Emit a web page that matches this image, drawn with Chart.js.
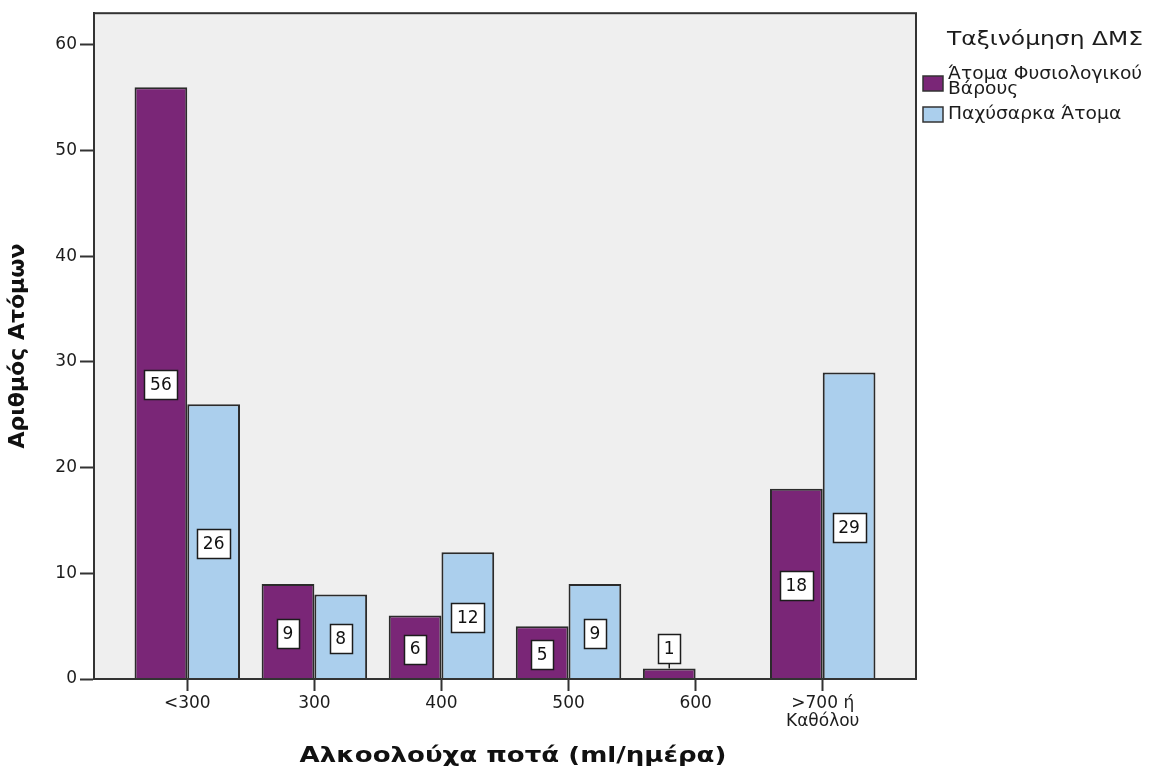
<!DOCTYPE html>
<html>
<head>
<meta charset="utf-8">
<script src="https://cdn.jsdelivr.net/npm/chart.js@4.4.1/dist/chart.umd.min.js"></script>
<style>
  html, body { margin: 0; padding: 0; background: #ffffff; }
  #wrap { width: 1154px; height: 774px; }
</style>
</head>
<body>
<div id="wrap"><canvas id="chart" width="1154" height="774"></canvas></div>
<script>
// Alcohol intake categories (ml/day) and head counts per BMI class
const categories = ['<300', '300', '400', '500', '600', ['>700 ή', 'Καθόλου']];
const normalWeight = [56, 9, 6, 5, 1, 18];
const obese = [26, 8, 12, 9, null, 29];
const seriesNames = [['Άτομα Φυσιολογικού', 'Βάρους'], ['Παχύσαρκα Άτομα']];
const yTicks = [0, 10, 20, 30, 40, 50, 60];
const legendTitle = 'Ταξινόμηση ΔΜΣ';
const xTitle = 'Αλκοολούχα ποτά (ml/ημέρα)';
const yTitle = 'Αριθμός Ατόμων';

const FONT = '"DejaVu Sans", "Liberation Sans", sans-serif';
const COLORS = ['#7a2677', '#abcfed'];
const INK = '#1c1c1c';
const FRAME = '#333333';

const toPoints = arr => arr.map((v, i) => ({ x: i, y: v }));

// Text drawn with a horizontal stretch (wide SPSS-style lettering)
function fillStretched(ctx, text, x, y, sx, align) {
  ctx.save();
  ctx.translate(x, y);
  ctx.scale(sx, 1);
  ctx.textAlign = align;
  ctx.fillText(text, 0, 0);
  ctx.restore();
}

// Grey plot background
const plotBackground = {
  id: 'plotBackground',
  beforeDraw(chart) {
    const { ctx, chartArea: a } = chart;
    ctx.save();
    ctx.fillStyle = '#efefef';
    ctx.fillRect(a.left, a.top, a.right - a.left, a.bottom - a.top);
    ctx.restore();
  }
};

// Boxed value labels on each bar, plus the frame around the plot
const valueBoxes = {
  id: 'valueBoxes',
  afterDatasetsDraw(chart) {
    const { ctx, chartArea: a } = chart;
    ctx.save();
    ctx.font = '17px ' + FONT;
    ctx.textAlign = 'center';
    ctx.textBaseline = 'middle';
    chart.data.datasets.forEach((ds, di) => {
      const meta = chart.getDatasetMeta(di);
      meta.data.forEach((bar, i) => {
        const v = ds.data[i].y;
        if (v === null || v === undefined) return;
        const txt = String(v);
        const w = Math.round(ctx.measureText(txt).width) + 11;
        const h = 29;
        const top = Math.min(bar.y, bar.base);
        const base = Math.max(bar.y, bar.base);
        const fits = (base - top) >= h + 8;
        const cy = fits ? (top + base) / 2 + 2 : top - 5 - h / 2;
        if (!fits) {
          ctx.strokeStyle = INK;
          ctx.lineWidth = 1.5;
          ctx.beginPath();
          ctx.moveTo(bar.x, top - 5);
          ctx.lineTo(bar.x, top);
          ctx.stroke();
        }
        const bx = Math.round(bar.x - w / 2) + 0.5;
        const by = Math.round(cy - h / 2) + 0.5;
        ctx.fillStyle = '#ffffff';
        ctx.fillRect(bx, by, w, h);
        ctx.strokeStyle = INK;
        ctx.lineWidth = 1.5;
        ctx.strokeRect(bx, by, w, h);
        ctx.fillStyle = '#111111';
        ctx.fillText(txt, bar.x, cy + 1);
      });
    });
    ctx.strokeStyle = FRAME;
    ctx.lineWidth = 2;
    ctx.strokeRect(a.left, a.top, a.right - a.left, a.bottom - a.top);
    ctx.restore();
  }
};

// Horizontal axis title and the legend block at the right
const sideLegend = {
  id: 'sideLegend',
  afterDraw(chart) {
    const { ctx } = chart;
    ctx.save();
    ctx.textBaseline = 'middle';

    ctx.fillStyle = '#111111';
    ctx.font = 'bold 21px ' + FONT;
    fillStretched(ctx, xTitle, 513, 757, 1.24, 'center');

    ctx.fillStyle = INK;
    ctx.font = '20px ' + FONT;
    fillStretched(ctx, legendTitle, 1045, 40, 1.17, 'center');

    ctx.font = '17px ' + FONT;
    const items = [
      { boxTop: 76, lines: [75, 90] },
      { boxTop: 107, lines: [115] }
    ];
    chart.data.datasets.forEach((ds, di) => {
      const it = items[di];
      ctx.fillStyle = ds.backgroundColor;
      ctx.fillRect(923, it.boxTop, 20, 15);
      ctx.strokeStyle = FRAME;
      ctx.lineWidth = 1.5;
      ctx.strokeRect(923, it.boxTop, 20, 15);
      ctx.fillStyle = INK;
      seriesNames[di].forEach((ln, li) => fillStretched(ctx, ln, 948, it.lines[li], 1.1, 'left'));
    });
    ctx.restore();
  }
};

new Chart(document.getElementById('chart'), {
  type: 'bar',
  data: {
    datasets: [
      {
        label: seriesNames[0].join(' '),
        data: toPoints(normalWeight),
        backgroundColor: COLORS[0],
        borderColor: '#2b2b2b',
        borderWidth: 2
      },
      {
        label: seriesNames[1].join(' '),
        data: toPoints(obese),
        backgroundColor: COLORS[1],
        borderColor: '#2b2b2b',
        borderWidth: 2
      }
    ]
  },
  options: {
    responsive: false,
    animation: false,
    devicePixelRatio: 1,
    layout: { padding: { top: 13, right: 238, left: 0, bottom: 0 } },
    datasets: { bar: { categoryPercentage: 0.83, barPercentage: 1.0 } },
    plugins: {
      legend: { display: false },
      tooltip: { enabled: false }
    },
    scales: {
      x: {
        type: 'linear',
        offset: false,
        min: -0.734,
        max: 5.734,
        afterFit(s) { s.height = 95; },
        afterBuildTicks(s) { s.ticks = categories.map((_, i) => ({ value: i })); },
        ticks: {
          autoSkip: false,
          maxRotation: 0,
          padding: 3,
          color: INK,
          font: { family: FONT, size: 17, lineHeight: 1.1 },
          callback: v => categories[v]
        },
        grid: { display: true, offset: false, drawOnChartArea: false, tickLength: 12, tickColor: FRAME, tickWidth: 2 },
        border: { display: true, color: FRAME, width: 2 },
        title: { display: false }
      },
      y: {
        min: 0,
        max: 63,
        afterFit(s) { s.width = 94; },
        afterBuildTicks(s) { s.ticks = yTicks.map(v => ({ value: v })); },
        ticks: {
          padding: 3,
          color: INK,
          font: { family: FONT, size: 17 }
        },
        grid: { display: true, drawOnChartArea: false, tickLength: 14, tickColor: FRAME, tickWidth: 2 },
        border: { display: true, color: FRAME, width: 2 },
        title: {
          display: true,
          text: yTitle,
          color: '#111111',
          font: { family: FONT, size: 22, weight: 'bold' },
          padding: { top: 5, bottom: 0 }
        }
      }
    }
  },
  plugins: [plotBackground, valueBoxes, sideLegend]
});
</script>
</body>
</html>
